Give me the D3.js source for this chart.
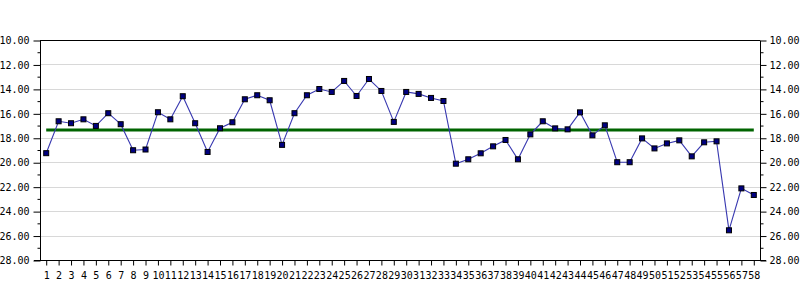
<!DOCTYPE html>
<html>
<head>
<meta charset="utf-8">
<script src="https://cdn.jsdelivr.net/npm/d3@7"></script>
<style>
  html, body { margin: 0; padding: 0; background: #fff; }
  svg { display: block; }
  text { font-family: "DejaVu Sans Mono", "Liberation Mono", monospace; font-size: 10px; fill: #000; }
</style>
</head>
<body>
<svg id="chart" width="800" height="300"></svg>
<script>
const categories = d3.range(1, 59).map(String);
const values = [
  19.26, 16.65, 16.81, 16.49, 17.03, 15.99, 16.89, 19.02, 18.96, 15.91,
  16.49, 14.60, 16.81, 19.16, 17.22, 16.73, 14.85, 14.52, 14.93, 18.58,
  15.99, 14.52, 14.01, 14.25, 13.35, 14.58, 13.19, 14.17, 16.70, 14.25,
  14.41, 14.74, 14.99, 20.12, 19.76, 19.27, 18.70, 18.18, 19.76, 17.72,
  16.65, 17.23, 17.31, 15.92, 17.80, 16.98, 20.00, 20.00, 18.05, 18.87,
  18.46, 18.21, 19.52, 18.37, 18.29, 25.57, 22.14, 22.68
];
const meanValue = [17.36];
const yTicks = [10, 12, 14, 16, 18, 20, 22, 24, 26, 28];
const yMinorTicks = [11, 13, 15, 17, 19, 21, 23, 25, 27];

const L = 40, R = 760, T = 40, B = 260;
const svg = d3.select("#chart");

const x = d3.scalePoint().domain(categories).range([L, R]).padding(0.5);
const y = d3.scaleLinear().domain([10, 28]).range([T, B]);

// gridlines
svg.append("g").selectAll("line").data(yTicks.filter(d => d !== 10 && d !== 28)).join("line")
  .attr("x1", L).attr("x2", R)
  .attr("y1", d => Math.round(y(d)) + 0.5).attr("y2", d => Math.round(y(d)) + 0.5)
  .attr("stroke", "#d8d8d8").attr("stroke-width", 1);

// top border
svg.append("line").attr("x1", L).attr("x2", R).attr("y1", T + 0.5).attr("y2", T + 0.5)
  .attr("stroke", "#000");

// left axis
const leftAxis = svg.append("g").attr("transform", `translate(${L + 0.5},0.5)`)
  .call(d3.axisLeft(y).tickValues(yTicks).tickFormat(d3.format(".2f")).tickSize(7).tickPadding(4));
leftAxis.select(".domain").attr("d", `M0,${T}V${B}`);
leftAxis.selectAll("text").style("font-family", "DejaVu Sans Mono").style("font-size", "10px");
leftAxis.append("g").selectAll("line").data(yMinorTicks).join("line")
  .attr("x1", -3).attr("x2", 0).attr("y1", d => y(d)).attr("y2", d => y(d)).attr("stroke", "#000");

// right axis
const rightAxis = svg.append("g").attr("transform", `translate(${R + 0.5},0.5)`)
  .call(d3.axisRight(y).tickValues(yTicks).tickFormat(d3.format(".2f")).tickSize(6).tickPadding(3));
rightAxis.select(".domain").attr("d", `M0,${T}V${B}`);
rightAxis.selectAll("text").style("font-family", "DejaVu Sans Mono").style("font-size", "10px");
rightAxis.append("g").selectAll("line").data(yMinorTicks).join("line")
  .attr("x1", 0).attr("x2", 3).attr("y1", d => y(d)).attr("y2", d => y(d)).attr("stroke", "#000");

// bottom axis
const bottomAxis = svg.append("g").attr("transform", `translate(0,${B + 0.5})`)
  .call(d3.axisBottom(x).tickSize(5).tickPadding(6));
bottomAxis.select(".domain").attr("d", `M${L - 6},0H${R + 6}`);
bottomAxis.selectAll("text").style("font-family", "DejaVu Sans Mono").style("font-size", "10px");

svg.selectAll(".domain").attr("stroke", "#000");
svg.selectAll(".tick line").attr("stroke", "#000");

// mean line
svg.append("line")
  .attr("x1", x(categories[0])).attr("x2", x(categories[categories.length - 1]))
  .attr("y1", y(meanValue[0])).attr("y2", y(meanValue[0]))
  .attr("stroke", "#006400").attr("stroke-width", 3);

// data line
const data = categories.map((c, i) => ({ c, v: values[i] }));
svg.append("path").datum(data)
  .attr("fill", "none").attr("stroke", "#3838b0").attr("stroke-width", 1.1)
  .attr("d", d3.line().x(d => x(d.c)).y(d => y(d.v)));

// markers
svg.append("g").selectAll("rect").data(data).join("rect")
  .attr("x", d => x(d.c) - 2.5).attr("y", d => y(d.v) - 2.5)
  .attr("width", 5).attr("height", 5)
  .attr("fill", "#000080").attr("stroke", "#000").attr("stroke-width", 1);
</script>
</body>
</html>
